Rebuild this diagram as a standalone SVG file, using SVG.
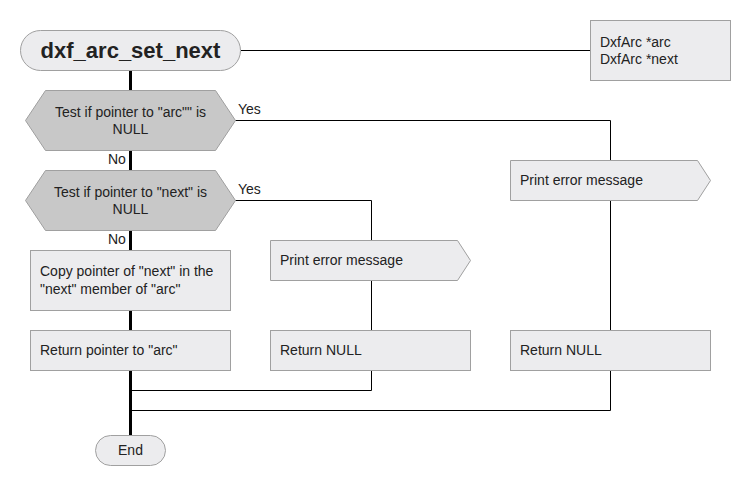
<svg xmlns="http://www.w3.org/2000/svg" width="750" height="490" viewBox="0 0 750 490">
<style>
text{font-family:"Liberation Sans",Arial,sans-serif;font-size:14px;fill:#222}
.box{fill:#ececee;stroke:#a0a0a0;stroke-width:1}
.dec{fill:#c8c8c8;stroke:#a0a0a0;stroke-width:1}
.thick{stroke:#000;stroke-width:3;fill:none}
.thin{stroke:#000;stroke-width:1;fill:none}
.c{text-anchor:middle}
</style>
<rect width="750" height="490" fill="#fff"/>
<g id="connectors">
<path class="thick" d="M130.5 70V90M130.5 150V170M130.5 230V250M130.5 310V330M130.5 370V435"/>
<path class="thin" d="M241 50.5H590"/>
<path class="thin" d="M235 120.5H610.5V160M610.5 200V330M610.5 370V410.5H130"/>
<path class="thin" d="M235 200.5H371.5V240M371.5 280V330M371.5 370V390.5H130"/>
<text x="238" y="114">Yes</text>
<text x="238" y="194">Yes</text>
<text x="108" y="164">No</text>
<text x="108" y="244">No</text>
</g>
<g id="title">
<rect class="box" x="20.5" y="30.5" width="220" height="40" rx="20"/>
<text class="c" x="130.5" y="58" style="font-size:22px;font-weight:bold">dxf_arc_set_next</text>
</g>
<g id="params">
<rect class="box" x="590.5" y="20.5" width="140" height="60"/>
<text x="600" y="47">DxfArc *arc</text>
<text x="600" y="64">DxfArc *next</text>
</g>
<g id="dec1">
<polygon class="dec" points="25.5,120.5 45.5,90.5 215.5,90.5 235.5,120.5 215.5,150.5 45.5,150.5"/>
<text class="c" x="130.5" y="117">Test if pointer to "arc"" is</text>
<text class="c" x="130.5" y="134">NULL</text>
</g>
<g id="dec2">
<polygon class="dec" points="25.5,200.5 45.5,170.5 215.5,170.5 235.5,200.5 215.5,230.5 45.5,230.5"/>
<text class="c" x="130.5" y="197">Test if pointer to "next" is</text>
<text class="c" x="130.5" y="214">NULL</text>
</g>
<g id="copy">
<rect class="box" x="30.5" y="250.5" width="200" height="60"/>
<text x="40" y="276">Copy pointer of "next" in the</text>
<text x="40" y="294">"next" member of "arc"</text>
</g>
<g id="retarc">
<rect class="box" x="30.5" y="330.5" width="200" height="40"/>
<text x="40" y="355">Return pointer to "arc"</text>
</g>
<g id="err2">
<polygon class="box" points="270.5,240.5 457.5,240.5 470.5,260.5 457.5,280.5 270.5,280.5"/>
<text x="280" y="265">Print error message</text>
</g>
<g id="ret2">
<rect class="box" x="270.5" y="330.5" width="200" height="40"/>
<text x="280" y="355">Return NULL</text>
</g>
<g id="err1">
<polygon class="box" points="510.5,160.5 697.5,160.5 710.5,180.5 697.5,200.5 510.5,200.5"/>
<text x="520" y="185">Print error message</text>
</g>
<g id="ret1">
<rect class="box" x="510.5" y="330.5" width="200" height="40"/>
<text x="520" y="355">Return NULL</text>
</g>
<g id="end">
<rect class="box" x="95.5" y="435.5" width="70" height="30" rx="15"/>
<text class="c" x="130.5" y="455">End</text>
</g>
</svg>
